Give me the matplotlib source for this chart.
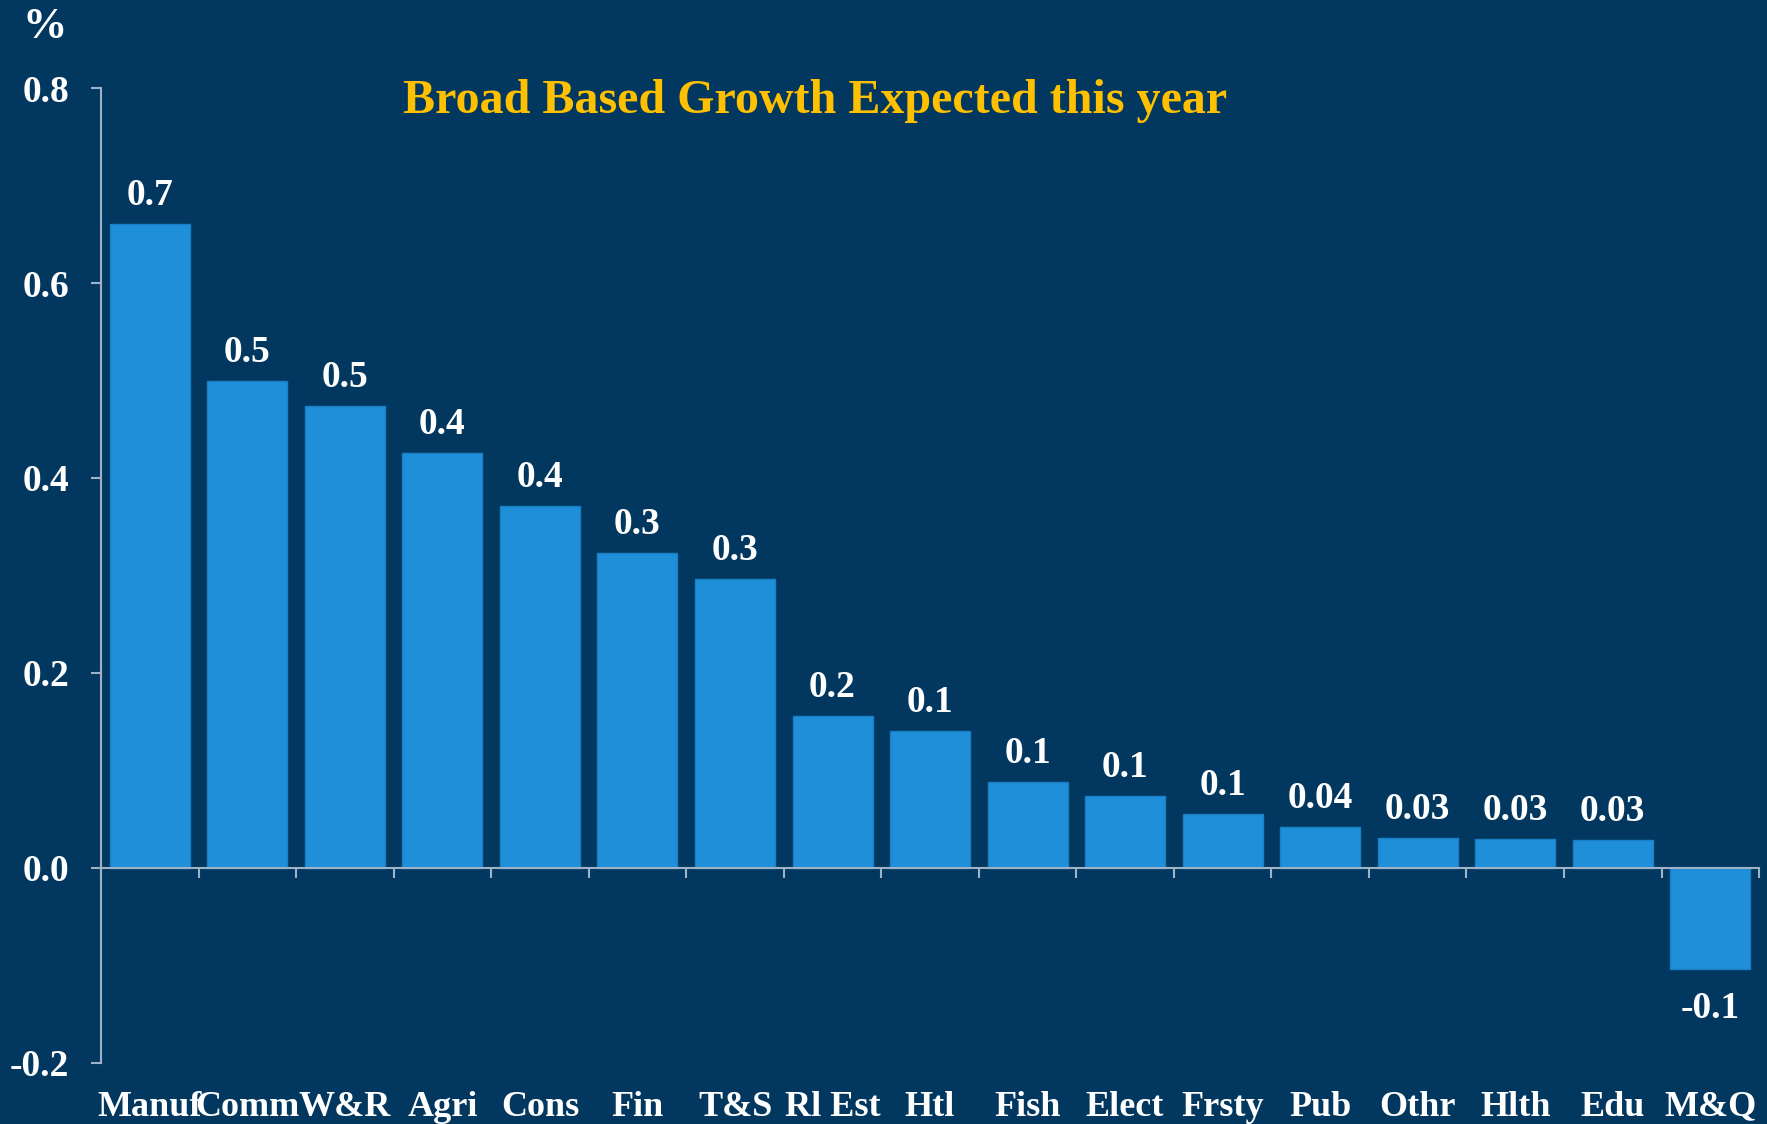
import matplotlib.pyplot as plt
import matplotlib.transforms as mtransforms

# sector contributions to growth (%)
sectors = ['Manuf', 'Comm', 'W&R', 'Agri', 'Cons', 'Fin', 'T&S', 'Rl Est', 'Htl',
           'Fish', 'Elect', 'Frsty', 'Pub', 'Othr', 'Hlth', 'Edu', 'M&Q']
values = [0.661, 0.499, 0.474, 0.426, 0.371, 0.323, 0.296, 0.156, 0.141,
          0.088, 0.074, 0.055, 0.042, 0.031, 0.030, 0.029, -0.104]
value_labels = ['0.7', '0.5', '0.5', '0.4', '0.4', '0.3', '0.3', '0.2', '0.1',
                '0.1', '0.1', '0.1', '0.04', '0.03', '0.03', '0.03', '-0.1']
y_ticks = [-0.2, 0.0, 0.2, 0.4, 0.6, 0.8]

bg = '#02385f'
bar_color = '#1e8fd8'
axis_color = '#9fb3c8'

plt.rcParams['font.family'] = ['Liberation Serif', 'DejaVu Serif']
plt.rcParams['font.weight'] = 'bold'

fig = plt.figure(figsize=(17.67, 11.24), dpi=100, facecolor=bg)
ax = fig.add_axes([0.0572, 0.0543, 0.9383, 0.8674], facecolor=bg)

x = range(len(sectors))
ax.bar(x, values, width=0.82, color=bar_color, edgecolor='#1a80c6', linewidth=1, zorder=2)

ax.set_xlim(-0.5, len(sectors) - 0.5)
ax.set_ylim(-0.2, 0.8)

# spines
for s in ['top', 'right']:
    ax.spines[s].set_visible(False)
ax.spines['left'].set_color(axis_color)
ax.spines['left'].set_linewidth(1.5)
ax.spines['bottom'].set_color(axis_color)
ax.spines['bottom'].set_linewidth(1.5)
ax.spines['bottom'].set_position(('data', 0))
ax.spines['bottom'].set_zorder(3)

ax.set_yticks(y_ticks)
ax.set_yticklabels([f'{t:.1f}' for t in y_ticks])
ax.tick_params(axis='y', colors=axis_color, length=7, width=1.5, direction='out', pad=16,
               labelcolor='white', labelsize=27)

# x ticks at category boundaries, labels at the bottom
ax.set_xticks([i - 0.5 for i in range(len(sectors) + 1)])
ax.set_xticklabels([])
ax.tick_params(axis='x', colors=axis_color, length=7, width=1.5, direction='out')

trans = mtransforms.blended_transform_factory(ax.transData, fig.transFigure)
for i, name in enumerate(sectors):
    ax.text(i, 0.015, name, transform=trans, ha='center', va='center',
            color='white', fontsize=26, fontweight='bold')

# value labels
for i, (v, lab) in enumerate(zip(values, value_labels)):
    off = 20.5 if v >= 0 else -28
    ax.annotate(lab, (i, v), xytext=(0, off), textcoords='offset points',
                ha='center', va='center', color='white', fontsize=27, fontweight='bold')

fig.text(0.461, 0.910, 'Broad Based Growth Expected this year', ha='center', va='center',
         color='#ffc000', fontsize=34.6, fontweight='bold')
fig.text(0.0255, 0.976, '%', ha='center', va='center', color='white', fontsize=32,
         fontweight='bold')

fig.savefig('out.png', dpi=100, facecolor=bg)
